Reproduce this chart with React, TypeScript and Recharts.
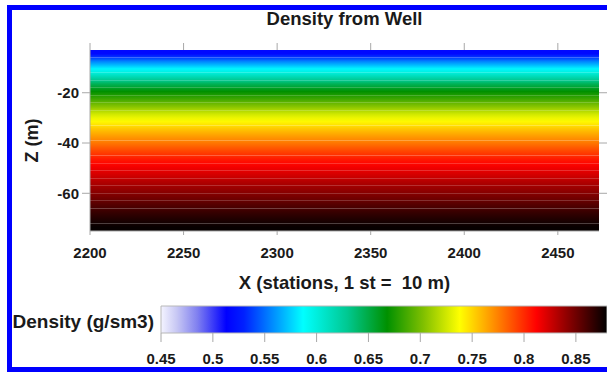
import { ComposedChart, XAxis, YAxis, ReferenceArea } from 'recharts';

// stations (x) extent and ticks
const xRange = [2200, 2472];
const xTicks = [2200, 2250, 2300, 2350, 2400, 2450];
const zRange = [-75, -3];
const zTicks = [-20, -40, -60];

// well log: layer edges (m) and density of each layer (g/sm3)
const depthEdges = [-3, -6, -9, -12, -15, -18, -21, -24, -27, -30, -33, -36, -39, -42, -45, -48, -51, -54, -57, -60, -63, -66, -69, -72, -75];
const densities = [0.518, 0.555, 0.585, 0.615, 0.645, 0.668, 0.685, 0.705, 0.725, 0.74, 0.755, 0.768, 0.78, 0.793, 0.805, 0.815, 0.823, 0.832, 0.84, 0.848, 0.857, 0.865, 0.872, 0.878];

// colour scale
const cbRange = [0.45, 0.88];
const cbTicks = [0.45, 0.5, 0.55, 0.6, 0.65, 0.7, 0.75, 0.8, 0.85];
const cmapValues = [0.45, 0.465, 0.485, 0.513, 0.53, 0.587, 0.63, 0.668, 0.703, 0.738, 0.767, 0.812, 0.841, 0.88];
const cmapColors = ['#f4f4ff', '#c8c8f4', '#8080f0', '#0000ff', '#0020ff', '#00ffff', '#00c890', '#009000', '#80c000', '#ffff00', '#ff9c00', '#ff0000', '#900000', '#000000'];

const FONT = 'Arial, "Liberation Sans", sans-serif';
const TXT = '#1a1a1a';
const AX = '#a8a8a8';

function hexToRgb(h: string) {
  return [1, 3, 5].map((i) => parseInt(h.slice(i, i + 2), 16));
}

function colorFor(v: number) {
  if (v <= cmapValues[0]) return cmapColors[0];
  for (let i = 1; i < cmapValues.length; i++) {
    if (v <= cmapValues[i]) {
      const t = (v - cmapValues[i - 1]) / (cmapValues[i] - cmapValues[i - 1]);
      const a = hexToRgb(cmapColors[i - 1]);
      const b = hexToRgb(cmapColors[i]);
      const c = a.map((x, k) => Math.round(x + (b[k] - x) * t));
      return `rgb(${c[0]},${c[1]},${c[2]})`;
    }
  }
  return cmapColors[cmapColors.length - 1];
}

const tickStyle = { fill: TXT, fontSize: 15, fontWeight: 'bold', fontFamily: FONT };
const blank = () => '';

const plotData = xRange.map((x, i) => ({ x, z: zRange[i] }));
const cbData = cbRange.map((v) => ({ v, y: 0.5 }));

// soft edges between neighbouring layers
function layerStops(i: number) {
  const d = densities[i];
  const above = i > 0 ? (densities[i - 1] + d) / 2 : d;
  const below = i < densities.length - 1 ? (densities[i + 1] + d) / 2 : d;
  return [colorFor(above), colorFor(d), colorFor(below)];
}

export default function App() {
  return (
    <div style={{ position: 'absolute', left: 0, top: 0, width: 607, height: 375, background: '#fff', overflow: 'hidden', fontFamily: FONT }}>
      <div style={{ position: 'absolute', left: 7, top: 5, width: 620, height: 367, boxSizing: 'border-box', borderTop: '5px solid #0000ff', borderLeft: '5px solid #0000ff', borderBottom: '5px solid #0000ff' }} />

      <div style={{ position: 'absolute', left: 90, width: 509, top: 8, textAlign: 'center', fontSize: 18.5, fontWeight: 'bold', color: TXT }}>
        Density from Well
      </div>

      <div style={{ position: 'absolute', left: 0, top: 0 }}>
        <ComposedChart width={607} height={261} data={plotData} margin={{ top: 49, right: 0, bottom: 0, left: 0 }}>
          <defs>
            {densities.map((_, i) => {
              const s = layerStops(i);
              return (
                <linearGradient key={i} id={`layer${i}`} x1="0" y1="0" x2="0" y2="1">
                  <stop offset={0} stopColor={s[0]} />
                  <stop offset={0.5} stopColor={s[1]} />
                  <stop offset={1} stopColor={s[2]} />
                </linearGradient>
              );
            })}
          </defs>
          <XAxis xAxisId="top" orientation="top" dataKey="x" type="number" domain={xRange} ticks={xTicks} height={1}
            tickSize={7} tickFormatter={blank} axisLine={false} stroke={AX} allowDataOverflow />
          <XAxis dataKey="x" type="number" domain={xRange} ticks={xTicks} height={30} tickSize={4} tickMargin={12}
            stroke={AX} fontSize={15} tick={tickStyle} allowDataOverflow />
          <YAxis dataKey="z" type="number" domain={zRange} ticks={zTicks} width={90} tickSize={8} tickMargin={3}
            stroke={AX} fontSize={15} tick={tickStyle} allowDataOverflow
            label={{ value: 'Z (m)', angle: -90, position: 'insideLeft', offset: 32, style: { textAnchor: 'middle', fill: TXT, fontSize: 18, fontWeight: 'bold', fontFamily: FONT } }} />
          <YAxis yAxisId="right" orientation="right" dataKey="z" type="number" domain={zRange} ticks={zTicks} width={8}
            tickSize={8} tickFormatter={blank} axisLine={false} stroke={AX} allowDataOverflow />
          {densities.map((d, i) => (
            <ReferenceArea key={i} x1={xRange[0]} x2={xRange[1]} y1={depthEdges[i]} y2={depthEdges[i + 1]}
              fill={`url(#layer${i})`} fillOpacity={1} stroke="none" ifOverflow="visible" />
          ))}
        </ComposedChart>
      </div>

      <div style={{ position: 'absolute', left: 90, width: 509, top: 272, textAlign: 'center', fontSize: 18.5, fontWeight: 'bold', color: TXT, whiteSpace: 'pre' }}>
        {'X (stations, 1 st =  10 m)'}
      </div>

      <div style={{ position: 'absolute', left: 0, width: 154, top: 311, textAlign: 'right', fontSize: 19, fontWeight: 'bold', color: TXT }}>
        Density (g/sm3)
      </div>

      <div style={{ position: 'absolute', left: 0, top: 280 }}>
        <ComposedChart width={607} height={95} data={cbData} margin={{ top: 26, right: 0, bottom: 12, left: 161 }}>
          <defs>
            <linearGradient id="cbar" x1="0" y1="0" x2="1" y2="0">
              {cmapValues.map((v, i) => (
                <stop key={i} offset={(v - cbRange[0]) / (cbRange[1] - cbRange[0])} stopColor={cmapColors[i]} />
              ))}
            </linearGradient>
          </defs>
          <XAxis dataKey="v" type="number" domain={cbRange} ticks={cbTicks} height={30} tickSize={9} tickMargin={11}
            axisLine={false} stroke={AX} fontSize={15} tick={tickStyle} allowDataOverflow />
          <YAxis dataKey="y" type="number" domain={[0, 1]} hide />
          <ReferenceArea x1={cbRange[0]} x2={cbRange[1]} y1={0} y2={1} fill="url(#cbar)" fillOpacity={1}
            stroke="#b8b8b8" strokeWidth={1} ifOverflow="visible" />
        </ComposedChart>
      </div>
    </div>
  );
}
